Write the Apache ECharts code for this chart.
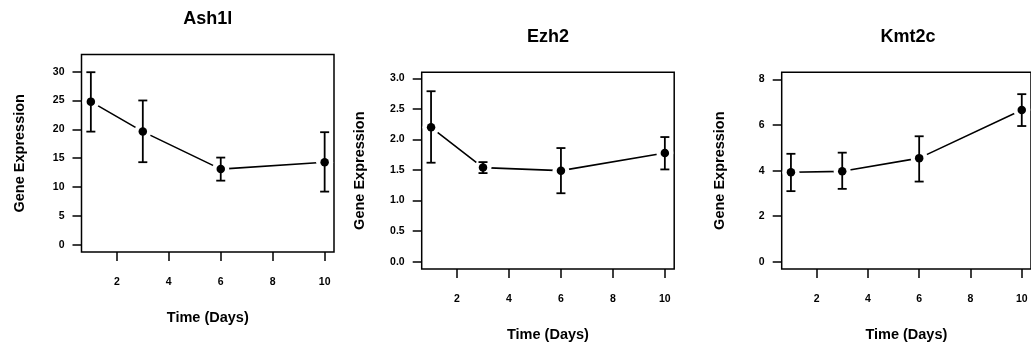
<!DOCTYPE html>
<html>
<head>
<meta charset="utf-8">
<script src="https://cdn.jsdelivr.net/npm/echarts@6/dist/echarts.min.js"></script>
<style>
  html, body { margin: 0; padding: 0; background: #fff; }
  #chart { width: 1031px; height: 347px; }
</style>
</head>
<body>
<div id="chart"></div>
<script>
// --- datos ---
const days = [1, 3, 6, 10];
const xTicks = [2, 4, 6, 8, 10];

const ash1lMean  = [24.8, 19.6, 13.1, 14.3];
const ash1lUpper = [29.9, 25.0, 15.1, 19.5];
const ash1lLower = [19.6, 14.3, 11.1, 9.2];
const ash1lTicks = [0, 5, 10, 15, 20, 25, 30];

const ezh2Mean  = [2.20, 1.54, 1.49, 1.78];
const ezh2Upper = [2.79, 1.63, 1.86, 2.04];
const ezh2Lower = [1.62, 1.45, 1.12, 1.51];
const ezh2Ticks = [0, 0.5, 1, 1.5, 2, 2.5, 3];

const kmt2cMean  = [3.93, 3.97, 4.55, 6.66];
const kmt2cUpper = [4.74, 4.79, 5.51, 7.36];
const kmt2cLower = [3.10, 3.20, 3.52, 5.96];
const kmt2cTicks = [0, 2, 4, 6, 8];

const genes = ['Ash1l', 'Ezh2', 'Kmt2c'];

// --- paneles ---
const paneles = [
  { name: genes[0], mean: ash1lMean, up: ash1lUpper, lo: ash1lLower, ticks: ash1lTicks,
    yMin: -1.27, yMax: 32.97, dec: 0, left: 81.5, top: 54.5 },
  { name: genes[1], mean: ezh2Mean, up: ezh2Upper, lo: ezh2Lower, ticks: ezh2Ticks,
    yMin: -0.12, yMax: 3.1, dec: 1, left: 421.7, top: 72.3 },
  { name: genes[2], mean: kmt2cMean, up: kmt2cUpper, lo: kmt2cLower, ticks: kmt2cTicks,
    yMin: -0.32, yMax: 8.32, dec: 0, left: 781.7, top: 72.3 }
];

const W = 252.5, H = 197.5;
const FONT = 'Liberation Sans, Arial, sans-serif';

const grids = [], xAxes = [], yAxes = [], titles = [], series = [];

paneles.forEach((p, i) => {
  grids.push({
    left: p.left, top: p.top, width: W, height: H,
    show: true, borderColor: '#000', borderWidth: 1.5, backgroundColor: 'transparent'
  });
  titles.push({
    text: p.name, left: p.left + W / 2, top: p.top - 44, textAlign: 'center', padding: 0,
    textStyle: { fontFamily: FONT, fontWeight: 'bold', fontSize: 18, color: '#000' }
  });
  xAxes.push({
    type: 'value', gridIndex: i, min: 0.64, max: 10.36,
    name: 'Time (Days)', nameLocation: 'middle', nameGap: 58,
    nameTextStyle: { fontFamily: FONT, fontWeight: 'bold', fontSize: 14.5, color: '#000' },
    axisLine: { show: false, onZero: false },
    axisTick: { show: true, inside: false, length: 9, customValues: xTicks,
                lineStyle: { color: '#000', width: 1.5 } },
    axisLabel: { customValues: xTicks, margin: 25, fontFamily: FONT, fontWeight: 'bold',
                 fontSize: 10.5, color: '#000' },
    splitLine: { show: false }
  });
  yAxes.push({
    type: 'value', gridIndex: i, min: p.yMin, max: p.yMax,
    name: 'Gene Expression', nameLocation: 'middle', nameGap: 54,
    nameTextStyle: { fontFamily: FONT, fontWeight: 'bold', fontSize: 14.5, color: '#000' },
    axisLine: { show: false, onZero: false },
    axisTick: { show: true, inside: false, length: 9, customValues: p.ticks,
                lineStyle: { color: '#000', width: 1.5 } },
    axisLabel: { customValues: p.ticks, margin: 17, fontFamily: FONT, fontWeight: 'bold',
                 fontSize: 10.5, color: '#000',
                 formatter: v => v.toFixed(p.dec) },
    splitLine: { show: false }
  });

  // linea con huecos alrededor de los puntos (como type="b" en R)
  series.push({
    type: 'line', xAxisIndex: i, yAxisIndex: i, silent: true, z: 2,
    data: days.map((d, k) => [d, p.mean[k]]),
    symbol: 'circle', symbolSize: 17,
    itemStyle: { color: '#fff', borderWidth: 0, opacity: 1 },
    lineStyle: { color: '#000', width: 1.6 },
    animation: false
  });
  // barras de error
  series.push({
    type: 'custom', xAxisIndex: i, yAxisIndex: i, silent: true, z: 3,
    data: days.map((d, k) => [d, p.lo[k], p.up[k]]),
    encode: { x: 0, y: [1, 2] },
    renderItem: (params, api) => {
      const a = api.coord([api.value(0), api.value(2)]);
      const b = api.coord([api.value(0), api.value(1)]);
      const w = 4.5;
      const st = { stroke: '#000', lineWidth: 1.8 };
      return {
        type: 'group',
        children: [
          { type: 'line', shape: { x1: a[0], y1: a[1], x2: b[0], y2: b[1] }, style: st },
          { type: 'line', shape: { x1: a[0] - w, y1: a[1], x2: a[0] + w, y2: a[1] }, style: st },
          { type: 'line', shape: { x1: b[0] - w, y1: b[1], x2: b[0] + w, y2: b[1] }, style: st }
        ]
      };
    },
    animation: false
  });
  // puntos
  series.push({
    type: 'scatter', xAxisIndex: i, yAxisIndex: i, silent: true, z: 4,
    data: days.map((d, k) => [d, p.mean[k]]),
    symbol: 'circle', symbolSize: 8.5,
    itemStyle: { color: '#000', opacity: 1 },
    animation: false
  });
});

const chart = echarts.init(document.getElementById('chart'));
chart.setOption({
  backgroundColor: '#fff',
  animation: false,
  title: titles,
  grid: grids,
  xAxis: xAxes,
  yAxis: yAxes,
  series: series
});
</script>
</body>
</html>
